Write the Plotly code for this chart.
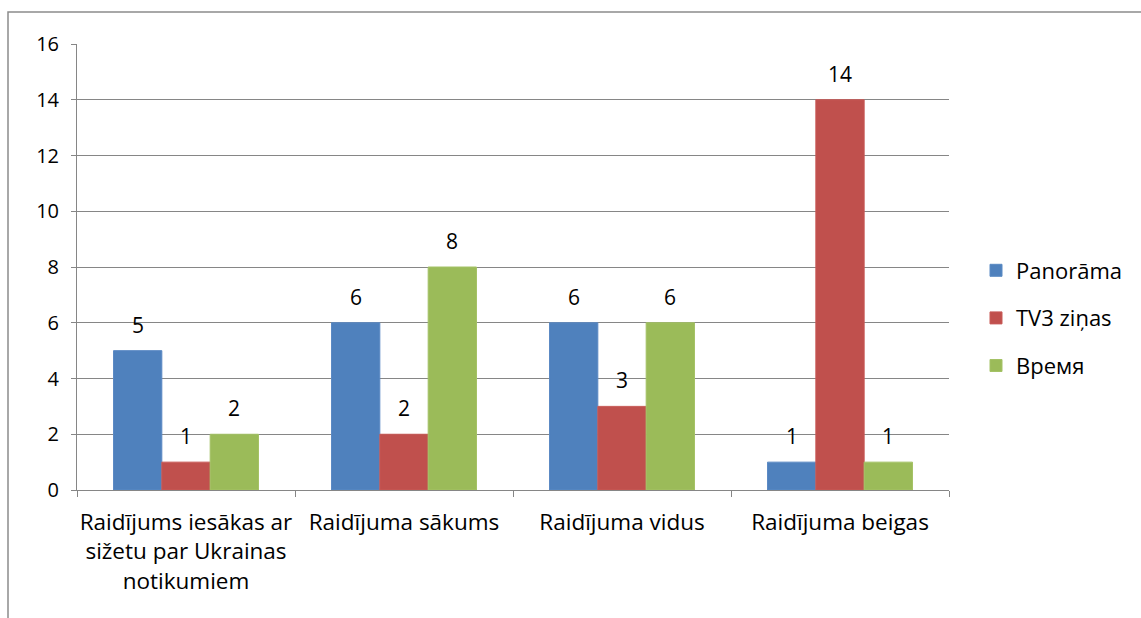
import plotly.graph_objects as go

categories = ["Raidījums iesākas ar<br>sižetu par Ukrainas<br>notikumiem",
              "Raidījuma sākums", "Raidījuma vidus", "Raidījuma beigas"]
series_names = ["Panorāma", "TV3 ziņas", "Время"]
panorama = [5, 6, 6, 1]
tv3 = [1, 2, 3, 14]
vremya = [2, 8, 6, 1]
y_ticks = [0, 2, 4, 6, 8, 10, 12, 14, 16]

colors = ["#4F81BD", "#C0504D", "#9BBB59"]
edge = ["#5B8AC4", "#C85A57", "#A4C266"]
FONT = "Open Sans"
W, H = 1141, 618
ML, MR, MT, MB = 77, 192, 44, 128
PW, PH = W - ML - MR, H - MT - MB
GAP = 0.335

fig = go.Figure()
all_series = [panorama, tv3, vremya]
for i, (name, vals) in enumerate(zip(series_names, all_series)):
    fig.add_trace(go.Bar(
        x=categories, y=vals, name=name,
        marker=dict(color=colors[i], line=dict(color=edge[i], width=1)),
        legendgroup=name,
    ))

bar_px = PW / len(categories) * (1 - GAP) / 3
annotations = []
for i, vals in enumerate(all_series):
    for c, v in zip(categories, vals):
        annotations.append(dict(
            x=c, y=v, xref="x", yref="y", text=str(v), showarrow=False,
            xshift=(i - 1) * bar_px, yshift=10, yanchor="bottom",
            font=dict(family=FONT, size=21, color="#000000"),
        ))

fig.update_layout(
    width=W, height=H,
    margin=dict(l=ML, r=MR, t=MT, b=MB),
    paper_bgcolor="white", plot_bgcolor="white",
    barmode="group", bargap=GAP, bargroupgap=0,
    font=dict(family=FONT, size=20, color="#000000"),
    legend=dict(x=(976 - ML) / PW, y=(H - MB - 318) / PH, xanchor="left", yanchor="middle",
                font=dict(family=FONT, size=22), tracegroupgap=16,
                traceorder="grouped", bgcolor="rgba(0,0,0,0)"),
    annotations=annotations,
    shapes=[dict(type="rect", xref="paper", yref="paper",
                 x0=(8 - ML) / PW, x1=(W + 10 - ML) / PW,
                 y0=(H - MB - (H + 10)) / PH, y1=1 + (MT - 12) / PH,
                 line=dict(color="#8C8C8C", width=1.5), fillcolor="rgba(0,0,0,0)",
                 layer="below")],
    xaxis=dict(type="category", tickson="boundaries", ticks="outside", ticklen=6,
               tickcolor="#868686", showline=True, linecolor="#868686", linewidth=1,
               showgrid=False, tickfont=dict(family=FONT, size=22.5, color="#000000"),
               tickangle=0, ticklabelstandoff=12),
    yaxis=dict(range=[0, 16], tickvals=y_ticks, ticks="outside", ticklen=5,
               tickcolor="#868686", showline=True, linecolor="#868686", linewidth=1,
               showgrid=True, gridcolor="#868686", gridwidth=1, zeroline=False,
               ticklabelstandoff=8,
               tickfont=dict(family=FONT, size=20, color="#000000")),
)
fig.write_html("out.html", config={"displayModeBar": False},
               post_script="document.body.style.margin='0';")
